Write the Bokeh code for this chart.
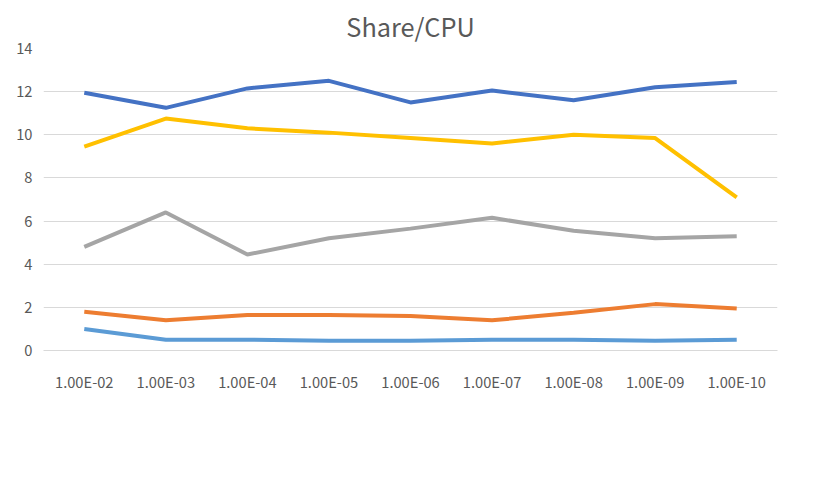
from bokeh.embed import file_html
from bokeh.models import FactorRange, Legend, LegendItem
from bokeh.plotting import figure
from bokeh.resources import INLINE

categories = ["1.00E-02", "1.00E-03", "1.00E-04", "1.00E-05", "1.00E-06",
              "1.00E-07", "1.00E-08", "1.00E-09", "1.00E-10"]
series1 = [1.0, 0.5, 0.5, 0.45, 0.45, 0.5, 0.5, 0.45, 0.5]
series2 = [1.8, 1.4, 1.65, 1.65, 1.6, 1.4, 1.75, 2.15, 1.95]
series3 = [4.8, 6.4, 4.45, 5.2, 5.65, 6.15, 5.55, 5.2, 5.3]
series4 = [9.45, 10.75, 10.3, 10.1, 9.85, 9.6, 10.0, 9.85, 7.1]
series5 = [11.95, 11.25, 12.15, 12.5, 11.5, 12.05, 11.6, 12.2, 12.45]
names = ["系列1", "系列2", "系列3", "系列4", "系列5"]
colors = ["#5B9BD5", "#ED7D31", "#A5A5A5", "#FFC000", "#4472C4"]

p = figure(frame_width=734, frame_height=302, x_range=FactorRange(*categories),
           y_range=(0, 14), output_backend="svg", toolbar_location=None,
           title="Share/CPU")
p.title.align = "center"
p.title.text_font = "Noto Sans CJK SC"
p.title.text_font_style = "normal"
p.title.text_font_size = "19pt"
p.title.text_color = "#595959"
p.outline_line_color = None
p.min_border_left = 43
p.min_border_right = 20
p.min_border_top = 20

items = []
for name, color, vals in zip(names, colors,
                             [series1, series2, series3, series4, series5]):
    r = p.line(categories, vals, line_color=color, line_width=4)
    items.append(LegendItem(label=name, renderers=[r]))

legend = Legend(items=items, orientation="horizontal", location="center",
                border_line_color=None, label_text_font="Noto Sans CJK SC",
                label_text_font_size="12pt", label_text_color="#595959",
                glyph_width=50, spacing=20, margin=4)
p.add_layout(legend, "below")

p.yaxis.ticker = [0, 2, 4, 6, 8, 10, 12, 14]
for ax in (p.xaxis, p.yaxis):
    ax.axis_line_color = None
    ax.major_tick_line_color = None
    ax.minor_tick_line_color = None
    ax.major_label_text_font = "Noto Sans CJK SC"
    ax.major_label_text_font_size = "11pt"
    ax.major_label_text_color = "#595959"
p.xaxis.axis_line_color = "#D9D9D9"
p.xaxis.major_label_standoff = 14
p.xgrid.grid_line_color = None
p.ygrid.grid_line_color = "#D9D9D9"

open("out.html", "w").write(file_html(p, INLINE))
